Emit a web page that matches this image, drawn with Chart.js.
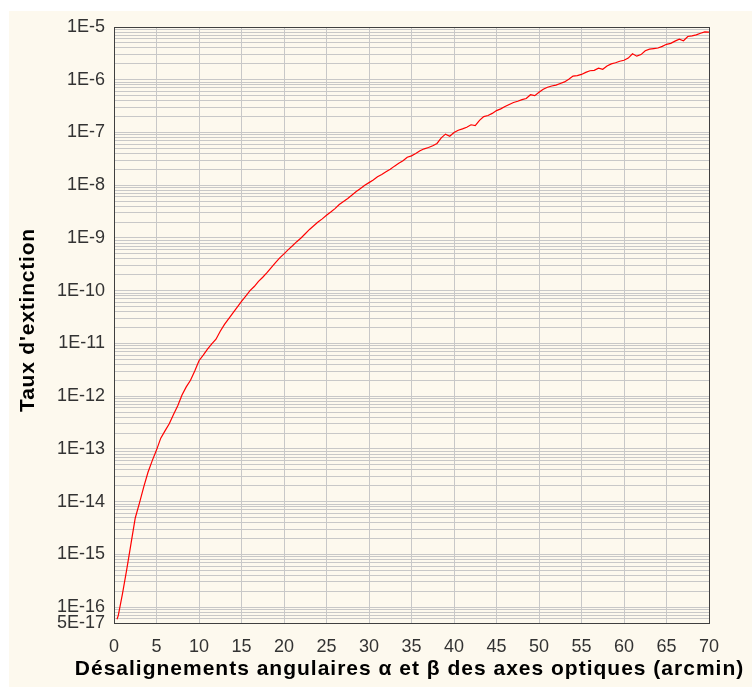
<!DOCTYPE html>
<html lang="fr">
<head>
<meta charset="utf-8">
<title>Taux d'extinction</title>
<script src="https://cdn.jsdelivr.net/npm/chart.js@4.4.1/dist/chart.umd.min.js"></script>
<style>
  html, body { margin: 0; padding: 0; background: #fff; }
  canvas { display: block; }
</style>
</head>
<body>
<canvas id="extinction" width="752" height="689"></canvas>
<script>
// misalignment angle (arcmin)
const angles = [
  0.35, 0.5, 1.0, 1.5, 2.0, 2.5, 3.0, 3.5, 4.0, 4.5, 5.0, 5.5, 6.0, 6.5, 7.0, 7.5, 8.0, 8.5, 9.0, 9.5,
  10.0, 10.5, 11.0, 11.5, 12.0, 12.5, 13.0, 13.5, 14.0, 14.5, 15.0, 15.5, 16.0, 16.5, 17.0, 17.5, 18.0, 18.5, 19.0, 19.5,
  20.0, 20.5, 21.0, 21.5, 22.0, 22.5, 23.0, 23.5, 24.0, 24.5, 25.0, 25.5, 26.0, 26.5, 27.0, 27.5, 28.0, 28.5, 29.0, 29.5,
  30.0, 30.5, 31.0, 31.5, 32.0, 32.5, 33.0, 33.5, 34.0, 34.5, 35.0, 35.5, 36.0, 36.5, 37.0, 37.5, 38.0, 38.5, 39.0, 39.5,
  40.0, 40.5, 41.0, 41.5, 42.0, 42.5, 43.0, 43.5, 44.0, 44.5, 45.0, 45.5, 46.0, 46.5, 47.0, 47.5, 48.0, 48.5, 49.0, 49.5,
  50.0, 50.5, 51.0, 51.5, 52.0, 52.5, 53.0, 53.5, 54.0, 54.5, 55.0, 55.5, 56.0, 56.5, 57.0, 57.5, 58.0, 58.5, 59.0, 59.5,
  60.0, 60.5, 61.0, 61.5, 62.0, 62.5, 63.0, 63.5, 64.0, 64.5, 65.0, 65.5, 66.0, 66.5, 67.0, 67.5, 68.0, 68.5, 69.0, 69.5,
  70.0
];

// extinction ratio at each angle
const rates = [
  5.9e-17, 6.9e-17, 1.8e-16, 5.2e-16, 1.6e-15, 4.9e-15, 9.5e-15, 1.9e-14, 3.6e-14, 6.0e-14,
  9.5e-14, 1.6e-13, 2.2e-13, 3.0e-13, 4.5e-13, 6.6e-13, 1.05e-12, 1.5e-12, 2.0e-12, 3.0e-12,
  4.7e-12, 6.0e-12, 7.8e-12, 9.8e-12, 1.2e-11, 1.7e-11, 2.3e-11, 2.95e-11, 3.8e-11, 4.9e-11,
  6.3e-11, 7.9e-11, 1.0e-10, 1.2e-10, 1.5e-10, 1.8e-10, 2.2e-10, 2.75e-10, 3.4e-10, 4.2e-10,
  5.0e-10, 6.0e-10, 7.1e-10, 8.5e-10, 1.0e-9, 1.2e-9, 1.45e-9, 1.7e-9, 2.0e-9, 2.3e-9,
  2.7e-9, 3.1e-9, 3.6e-9, 4.3e-9, 4.9e-9, 5.6e-9, 6.5e-9, 7.6e-9, 8.7e-9, 1.0e-8,
  1.12e-8, 1.26e-8, 1.45e-8, 1.6e-8, 1.8e-8, 2.0e-8, 2.3e-8, 2.6e-8, 2.9e-8, 3.4e-8,
  3.6e-8, 4.0e-8, 4.5e-8, 4.9e-8, 5.2e-8, 5.6e-8, 6.2e-8, 7.9e-8, 9.3e-8, 8.5e-8,
  1.0e-7, 1.1e-7, 1.17e-7, 1.26e-7, 1.4e-7, 1.35e-7, 1.7e-7, 2.0e-7, 2.1e-7, 2.3e-7,
  2.6e-7, 2.8e-7, 3.1e-7, 3.4e-7, 3.7e-7, 3.9e-7, 4.2e-7, 4.4e-7, 5.2e-7, 5.0e-7,
  5.8e-7, 6.6e-7, 7.2e-7, 7.6e-7, 7.9e-7, 8.5e-7, 9.1e-7, 1.02e-6, 1.17e-6, 1.2e-6,
  1.26e-6, 1.38e-6, 1.48e-6, 1.51e-6, 1.66e-6, 1.58e-6, 1.82e-6, 2.0e-6, 2.1e-6, 2.24e-6,
  2.34e-6, 2.57e-6, 3.1e-6, 2.8e-6, 3.0e-6, 3.55e-6, 3.8e-6, 3.9e-6, 4.0e-6, 4.3e-6,
  4.7e-6, 4.9e-6, 5.4e-6, 5.9e-6, 5.5e-6, 6.6e-6, 6.8e-6, 7.1e-6, 7.6e-6, 8.1e-6,
  8.0e-6
];

const yTickLabels = ['5E-17', '1E-16', '1E-15', '1E-14', '1E-13', '1E-12', '1E-11',
                     '1E-10', '1E-9', '1E-8', '1E-7', '1E-6', '1E-5'];
const xTickValues = [0, 5, 10, 15, 20, 25, 30, 35, 40, 45, 50, 55, 60, 65, 70];
const xTitle = 'Désalignements angulaires α et β des axes optiques (arcmin)';
const yTitle = "Taux d'extinction";

const yLabelValues = yTickLabels.map(Number);
const yMin = yLabelValues[0];
const yMax = yLabelValues[yLabelValues.length - 1];

// horizontal grid: every mantissa 1..9 of each decade between yMin and yMax
const yGridValues = [];
for (let e = -17; e <= -6; e++) {
  for (let m = 1; m <= 9; m++) {
    const v = Number(m + 'e' + e);
    if (v >= yMin) yGridValues.push(v);
  }
}
yGridValues.push(yMax);

const FONT = '"Liberation Sans", Arial, sans-serif';
const GRID = 'rgb(200,200,200)';

const pageBackground = {
  id: 'pageBackground',
  beforeDraw(chart) {
    const { ctx, width, height } = chart;
    ctx.save();
    ctx.fillStyle = '#ffffff';
    ctx.fillRect(0, 0, width, height);
    ctx.fillStyle = '#fdf9ee';
    ctx.fillRect(9, 11, width - 9, height - 13);
    ctx.restore();
  }
};

// box around the plot plus the two axis titles (drawn with a bit of letter spacing)
const frameAndTitles = {
  id: 'frameAndTitles',
  afterDraw(chart) {
    const { ctx, chartArea: a } = chart;
    ctx.save();
    ctx.strokeStyle = '#404040';
    ctx.lineWidth = 1;
    ctx.strokeRect(Math.round(a.left) + 0.5, Math.round(a.top) + 0.5,
                   Math.round(a.right - a.left), Math.round(a.bottom - a.top));

    ctx.fillStyle = '#000';
    ctx.font = 'bold 21px ' + FONT;
    ctx.textAlign = 'center';
    ctx.textBaseline = 'middle';
    ctx.letterSpacing = '1px';
    ctx.fillText(xTitle, (a.left + a.right) / 2 - 2, 669);

    ctx.translate(28, (a.top + a.bottom) / 2 - 5);
    ctx.rotate(-Math.PI / 2);
    ctx.letterSpacing = '0.8px';
    ctx.fillText(yTitle, 0, 0);
    ctx.restore();
  }
};

new Chart(document.getElementById('extinction'), {
  type: 'line',
  data: {
    datasets: [{
      data: angles.map((a, i) => ({ x: a, y: rates[i] })),
      borderColor: '#ff0000',
      borderWidth: 1.2,
      pointRadius: 0,
      tension: 0,
      fill: false
    }]
  },
  options: {
    responsive: false,
    animation: false,
    devicePixelRatio: 1,
    layout: { padding: { left: 0, top: 27, right: 43, bottom: 0 } },
    plugins: {
      legend: { display: false },
      tooltip: { enabled: false }
    },
    scales: {
      x: {
        type: 'linear',
        min: xTickValues[0],
        max: xTickValues[xTickValues.length - 1],
        afterFit(scale) { scale.height = 66; },
        afterBuildTicks(scale) {
          scale.ticks = xTickValues.map(v => ({ value: v }));
        },
        ticks: {
          autoSkip: false,
          padding: 13,
          color: '#333',
          font: { family: FONT, size: 18 }
        },
        grid: { color: GRID, drawTicks: false },
        border: { color: '#404040' }
      },
      y: {
        type: 'logarithmic',
        min: yMin,
        max: yMax,
        afterFit(scale) { scale.width = 114; },
        afterBuildTicks(scale) {
          scale.ticks = yGridValues.map(v => ({ value: v }));
        },
        ticks: {
          autoSkip: false,
          padding: 9,
          color: '#333',
          font: { family: FONT, size: 18 },
          callback(value) {
            const i = yLabelValues.findIndex(v => Math.abs(v - value) / v < 1e-6);
            return i >= 0 ? yTickLabels[i] : '';
          }
        },
        grid: { color: GRID, drawTicks: false },
        border: { color: '#404040' }
      }
    }
  },
  plugins: [pageBackground, frameAndTitles]
});
</script>
</body>
</html>
